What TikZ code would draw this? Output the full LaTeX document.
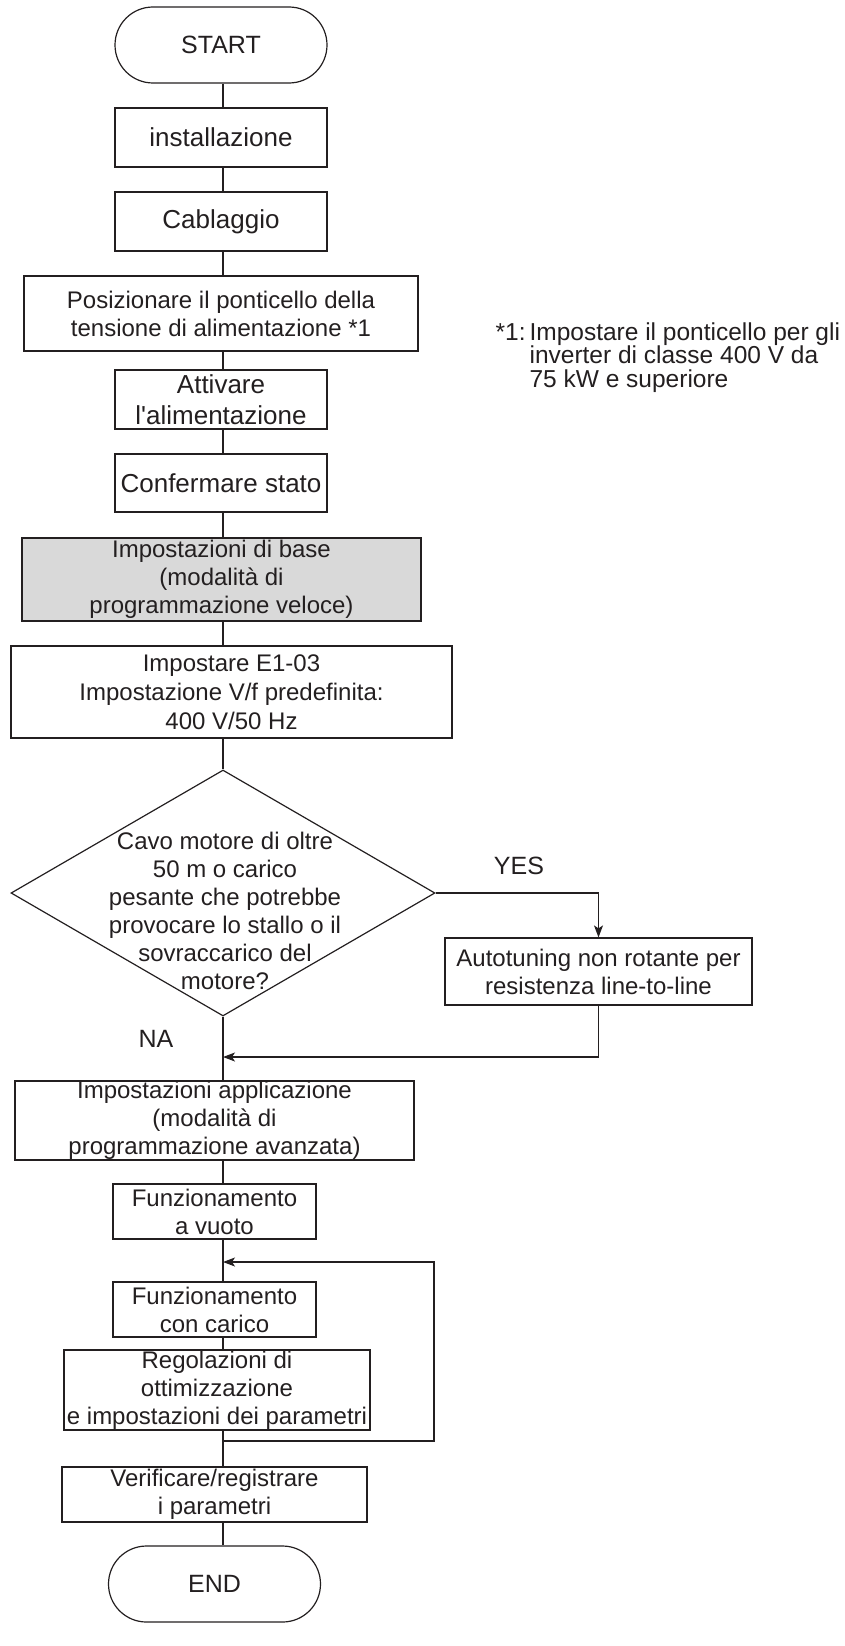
\documentclass[tikz,border=0pt]{standalone}
\usepackage{fontspec}
\setmainfont{Liberation Sans}
\usetikzlibrary{shapes.geometric,shapes.misc,arrows.meta}
\definecolor{ink}{RGB}{35,31,32}
\definecolor{boxgray}{RGB}{217,217,217}
\begin{document}
\begin{tikzpicture}[x=1pt,y=-1pt,color=ink,line width=1.2pt,
  fs/.style={font=\fontsize{#1}{28}\selectfont},
  box/.style={draw,rectangle,inner sep=0pt,align=center,fs=24},
  term/.style={draw,rounded rectangle,inner sep=0pt,align=center,fs=25,minimum width=212pt,minimum height=76pt},
  decision/.style={draw,diamond,inner sep=0pt,minimum width=424pt,minimum height=246pt},
  txt/.style={inner sep=0pt,align=center,fs=24},
  arr/.style={-{Stealth[length=12pt,width=9pt,inset=3pt]}}]
\useasboundingbox (0,0) rectangle (845,1646);
\coordinate (spine) at (223,0);

\node[term] (start) at (221,45) {START};
\node[box,fs=26,minimum width=212pt,minimum height=59pt] (inst) at (221,137.5) {installazione};
\node[box,fs=26,minimum width=212pt,minimum height=59pt] (cabl) at (221,221.5) {Cablaggio};
\node[box,minimum width=394pt,minimum height=75pt] (pos) at (221,313.5) {Posizionare il ponticello della\\tensione di alimentazione *1};
\node[box,minimum width=212pt,minimum height=59pt,font=\fontsize{26}{31}\selectfont] (att) at (221,399.5) {Attivare\\l\textquotesingle alimentazione};
\node[box,fs=26,minimum width=212pt,minimum height=58pt] (conf) at (221,483) {Confermare stato};
\node[box,fill=boxgray,minimum width=399pt,minimum height=83pt] (base) at (221.5,579.5) {Impostazioni di base\\(modalità di\\programmazione veloce)};
\node[box,minimum width=441pt,minimum height=92pt,font=\fontsize{24}{29}\selectfont] (e103) at (231.5,692) {Impostare E1-03\\Impostazione V/f predefinita:\\400 V/50 Hz};
\node[decision] (q) at (223,893) {};
\node[txt] (qt) at (225,911) {Cavo motore di oltre\\50 m o carico\\pesante che potrebbe\\provocare lo stallo o il\\sovraccarico del\\motore?};
\node[box,minimum width=307pt,minimum height=67pt] (auto) at (598.5,971.5) {Autotuning non rotante per\\resistenza line-to-line};
\node[txt,fs=25] (yes) at (519,866) {YES};
\node[txt,fs=25] (na) at (156,1039) {NA};
\coordinate (join) at (223,1057);
\node[box,minimum width=399pt,minimum height=79pt] (app) at (214.5,1120.5) {Impostazioni applicazione\\(modalità di\\programmazione avanzata)};
\node[box,minimum width=203pt,minimum height=55pt] (vuoto) at (214.5,1211.5) {Funzionamento\\a vuoto};
\node[box,minimum width=203pt,minimum height=55pt] (carico) at (214.5,1309.5) {Funzionamento\\con carico};
\node[box,minimum width=306pt,minimum height=80pt] (reg) at (217,1390) {Regolazioni di\\ottimizzazione\\e impostazioni dei parametri};
\node[box,minimum width=305pt,minimum height=55pt] (ver) at (214.5,1494.5) {Verificare/registrare\\i parametri};
\node[term] (fin) at (214.5,1584) {END};
\coordinate (loopin) at (223,1262);
\coordinate (loopout) at (223,1441);
\coordinate (loopbr) at (434,1441);
\coordinate (looptr) at (434,1262);

\node[inner sep=0pt,align=left,anchor=north west,font=\fontsize{24.5}{23.5}\selectfont] (note) at (495,322)
  {*1:\hspace{4pt}Impostare il ponticello per gli\\\phantom{*1:}\hspace{4pt}inverter di classe 400 V da\\\phantom{*1:}\hspace{4pt}75 kW e superiore};

\draw (start.south -| spine) -- (inst.north -| spine);
\draw (inst.south -| spine) -- (cabl.north -| spine);
\draw (cabl.south -| spine) -- (pos.north -| spine);
\draw (pos.south -| spine) -- (att.north -| spine);
\draw (att.south -| spine) -- (conf.north -| spine);
\draw (conf.south -| spine) -- (base.north -| spine);
\draw (base.south -| spine) -- (e103.north -| spine);
\draw (e103.south -| spine) -- (q.north);
\draw[arr] (q.east) -| (auto.north);
\draw[arr] (auto.south) |- (join);
\draw (q.south) -- (app.north -| spine);
\draw (app.south -| spine) -- (vuoto.north -| spine);
\draw (vuoto.south -| spine) -- (carico.north -| spine);
\draw (carico.south -| spine) -- (reg.north -| spine);
\draw (reg.south -| spine) -- (ver.north -| spine);
\draw (ver.south -| spine) -- (fin.north -| spine);
\draw[arr] (loopout) -- (loopbr) -- (looptr) -- (loopin);
\end{tikzpicture}
\end{document}
